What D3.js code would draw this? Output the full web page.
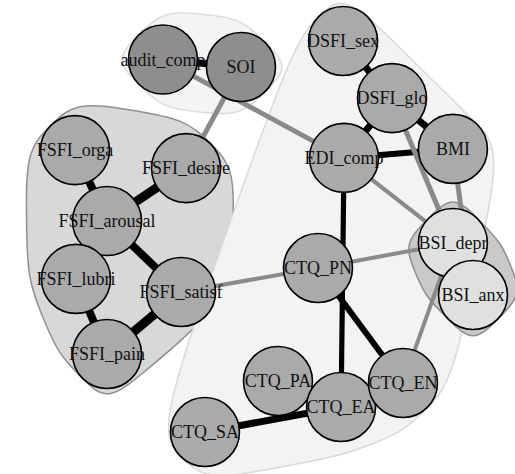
<!DOCTYPE html>
<html>
<head>
<meta charset="utf-8">
<script src="https://cdn.jsdelivr.net/npm/d3@7"></script>
<style>
  html, body { margin: 0; padding: 0; background: #fff; }
  svg { display: block; font-family: "Liberation Serif", serif; }
  svg text { font-family: "Liberation Serif", serif; font-size: 18px; }
</style>
</head>
<body>
<div id="chart"></div>
<script>
// Nodes, layout coordinates (igraph style, -1..1) and community membership
const names = ["audit_comp", "SOI",
  "FSFI_orga", "FSFI_desire", "FSFI_arousal", "FSFI_lubri", "FSFI_satisf", "FSFI_pain",
  "DSFI_sex", "DSFI_glo", "BMI", "EDI_comp", "CTQ_PN", "CTQ_PA", "CTQ_EA", "CTQ_EN", "CTQ_SA",
  "BSI_depr", "BSI_anx"];
const layoutX = [-0.558, -0.166,
  -1.0, -0.442, -0.839, -0.995, -0.467, -0.839,
  0.347, 0.593, 0.899, 0.352, 0.221, 0.020, 0.337, 0.648, -0.347,
  0.899, 1.0];
const layoutY = [0.905, 0.867,
  0.442, 0.350, 0.079, -0.217, -0.284, -0.601,
  1.0, 0.708, 0.448, 0.402, -0.161, -0.739, -0.872, -0.749, -1.0,
  -0.033, -0.299];
const membership = [1, 1,
  2, 2, 2, 2, 2, 2,
  3, 3, 3, 3, 3, 3, 3, 3, 3,
  4, 4];

// Edges: from, to, weight
const edgeFrom = ["audit_comp", "SOI", "audit_comp",
  "FSFI_orga", "FSFI_desire", "FSFI_arousal", "FSFI_lubri", "FSFI_satisf", "FSFI_satisf",
  "DSFI_sex", "DSFI_glo", "DSFI_glo", "EDI_comp", "DSFI_glo", "BMI", "EDI_comp",
  "EDI_comp", "CTQ_PN", "CTQ_PN", "CTQ_EN", "CTQ_EA", "CTQ_PA", "BSI_depr"];
const edgeTo = ["SOI", "FSFI_desire", "EDI_comp",
  "FSFI_arousal", "FSFI_arousal", "FSFI_satisf", "FSFI_pain", "FSFI_pain", "CTQ_PN",
  "DSFI_glo", "EDI_comp", "BMI", "BMI", "BSI_depr", "BSI_anx", "BSI_depr",
  "CTQ_EA", "BSI_depr", "CTQ_EN", "BSI_depr", "CTQ_SA", "CTQ_EA", "BSI_anx"];
const edgeWeight = [0.35, 0.25, 0.25,
  0.40, 0.45, 0.40, 0.40, 0.46, 0.20,
  0.35, 0.35, 0.35, 0.30, 0.25, 0.25, 0.21,
  0.26, 0.20, 0.30, 0.20, 0.35, 0.30, 0.40];

const width = 515, height = 474;
const nodeR = 34.5;
const hullPad = 49;

// per-community styles
const groupFill = { 1: "#f4f4f4", 2: "#d8d8d8", 3: "#f3f3f3", 4: "#c9c9c9" };
const groupStroke = { 1: "#dcdcdc", 2: "#8f8f8f", 3: "#d9d9d9", 4: "#8f8f8f" };
const nodeFill = { 1: "#8e8e8e", 2: "#aaaaaa", 3: "#aaaaaa", 4: "#e0e0e0" };

const x = d3.scaleLinear().domain([-1, 1]).range([75, 473]);
const y = d3.scaleLinear().domain([-1, 1]).range([432, 41]);
const w = d3.scaleLinear().domain([0, 0.5]).range([0, 10]);

const nodes = names.map((n, i) => ({ name: n, x: x(layoutX[i]), y: y(layoutY[i]), group: membership[i] }));
const byName = new Map(nodes.map(d => [d.name, d]));
const edges = edgeFrom.map((f, i) => ({ source: byName.get(f), target: byName.get(edgeTo[i]), weight: edgeWeight[i] }));

const svg = d3.select("#chart").append("svg")
  .attr("width", width)
  .attr("height", height);

// Community hulls: node centers pushed out in 4 directions, hull, then smoothed
const groups = d3.groups(nodes, d => d.group).sort((a, b) => a[0] - b[0]);
const hullLine = d3.line().curve(d3.curveBasisClosed);

svg.append("g")
  .selectAll("path")
  .data(groups)
  .join("path")
  .attr("d", ([, members]) => {
    const pts = [];
    members.forEach(d => {
      pts.push([d.x, d.y], [d.x - hullPad, d.y], [d.x + hullPad, d.y], [d.x, d.y - hullPad], [d.x, d.y + hullPad]);
    });
    const hull = d3.polygonHull(pts);
    // add midpoints so the spline hugs the hull a bit more
    const dense = [];
    hull.forEach((p, i) => {
      const q = hull[(i + 1) % hull.length];
      dense.push(p, [(p[0] + q[0]) / 2, (p[1] + q[1]) / 2]);
    });
    return hullLine(dense);
  })
  .attr("fill", ([g]) => groupFill[g])
  .attr("stroke", ([g]) => groupStroke[g])
  .attr("stroke-width", 1.5);

// Edges: black within community, grey across
svg.append("g")
  .selectAll("line")
  .data(edges)
  .join("line")
  .attr("x1", d => d.source.x)
  .attr("y1", d => d.source.y)
  .attr("x2", d => d.target.x)
  .attr("y2", d => d.target.y)
  .attr("stroke", d => d.source.group === d.target.group ? "#000" : "#8a8a8a")
  .attr("stroke-width", d => w(d.weight));

// Vertices
svg.append("g")
  .selectAll("circle")
  .data(nodes)
  .join("circle")
  .attr("cx", d => d.x)
  .attr("cy", d => d.y)
  .attr("r", nodeR)
  .attr("fill", d => nodeFill[d.group])
  .attr("stroke", "#000")
  .attr("stroke-width", 1.6);

// Labels on top
svg.append("g")
  .selectAll("text")
  .data(nodes)
  .join("text")
  .attr("fill", "#111")
  .attr("x", d => d.x)
  .attr("y", d => d.y + 6)
  .attr("text-anchor", "middle")
  .text(d => d.name);
</script>
</body>
</html>
